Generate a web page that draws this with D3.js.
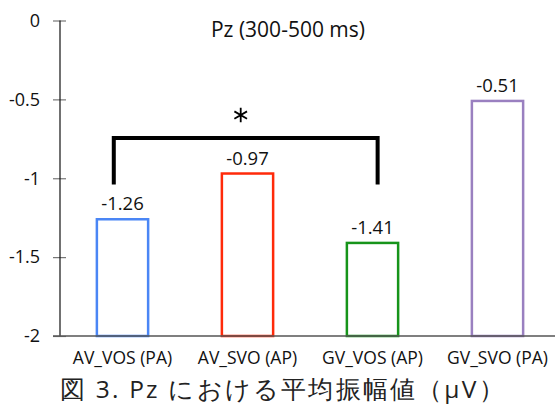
<!DOCTYPE html>
<html>
<head>
<meta charset="utf-8">
<script src="https://cdn.jsdelivr.net/npm/d3@7"></script>
<style>
  body { margin: 0; background: #fff; }
  text { font-family: "Open Sans", "Liberation Sans", sans-serif; }
</style>
</head>
<body>
<div id="chart"></div>
<script>
// categories and mean amplitudes (µV)
var categories = ['AV_VOS (PA)', 'AV_SVO (AP)', 'GV_VOS (AP)', 'GV_SVO (PA)'];
var values = [-1.26, -0.97, -1.41, -0.51];
var barColors = ['#4a86f5', '#ff2a0a', '#16941a', '#9a80c0'];
var yTicks = [0, -0.5, -1, -1.5, -2];
var yTickLabels = ['0', '-0.5', '-1', '-1.5', '-2'];
// significance bracket between 1st and 3rd bar
var sigPair = ['AV_VOS (PA)', 'GV_VOS (AP)'];
var sigLevel = -0.745, sigFoot = -1.04;

var width = 555, height = 405;
var svg = d3.select('#chart').append('svg')
	.attr('width', width)
	.attr('height', height);

var x = d3.scaleBand()
	.domain(categories)
	.range([60, 560])
	.paddingInner(0.59)
	.paddingOuter(0.295);

var y = d3.scaleLinear()
	.domain([-2, 0])
	.range([336, 20.5]);

// y axis
var yAxis = d3.axisLeft(y)
	.tickValues(yTicks)
	.tickFormat((d, i) => yTickLabels[i])
	.tickSize(0)
	.tickPadding(20);
var gy = svg.append('g')
	.attr('transform', 'translate(60,0)')
	.call(yAxis);
gy.select('.domain').remove();
gy.selectAll('text').attr('font-size', 18).attr('fill', '#111');
gy.selectAll('.tick').append('line')
	.attr('x1', -7).attr('x2', 6)
	.attr('stroke', '#777').attr('stroke-width', 1.2);
gy.append('line')
	.attr('y1', y(0)).attr('y2', y(-2))
	.attr('stroke', '#111').attr('stroke-width', 1.2);

// x axis
var xAxis = d3.axisBottom(x).tickSize(0).tickPadding(15.5);
var gx = svg.append('g')
	.attr('transform', 'translate(0,' + y(-2) + ')')
	.call(xAxis);
gx.select('.domain').remove();
gx.selectAll('text').attr('font-size', 17.5).attr('fill', '#111');

// bars
svg.append('g').selectAll('rect')
	.data(values)
	.enter().append('rect')
	.attr('x', (d, i) => x(categories[i]))
	.attr('y', d => y(d))
	.attr('width', x.bandwidth())
	.attr('height', d => y(-2) - y(d))
	.attr('fill', 'none')
	.attr('stroke', (d, i) => barColors[i])
	.attr('stroke-width', 2.5);

svg.append('line')
	.attr('x1', 53).attr('x2', width)
	.attr('y1', y(-2)).attr('y2', y(-2))
	.attr('stroke', '#555').attr('stroke-width', 1.5);

// value labels
svg.append('g').selectAll('text')
	.data(values)
	.enter().append('text')
	.attr('x', (d, i) => x(categories[i]) + x.bandwidth() / 2)
	.attr('y', d => y(d) - 9)
	.attr('text-anchor', 'middle')
	.attr('font-size', 18.5)
	.attr('fill', '#111')
	.text(d => d.toFixed(2));

// bracket
var bx1 = x(sigPair[0]) + x.bandwidth() * 0.33;
var bx2 = x(sigPair[1]) + x.bandwidth() * 0.6;
svg.append('path')
	.attr('d', 'M' + bx1 + ',' + y(sigFoot) + 'V' + y(sigLevel) + 'H' + bx2 + 'V' + y(sigFoot))
	.attr('fill', 'none')
	.attr('stroke', '#000')
	.attr('stroke-width', 4);
svg.append('path')
	.attr('d', d3.symbol().type(d3.symbolAsterisk).size(150)())
	.attr('transform', 'translate(' + ((bx1 + bx2) / 2 - 5) + ',' + (y(sigLevel) - 23) + ')')
	.attr('fill', 'none')
	.attr('stroke', '#000')
	.attr('stroke-width', 1.8);

// title
svg.append('text')
	.attr('x', 288)
	.attr('y', 37)
	.attr('text-anchor', 'middle')
	.attr('font-size', 21)
	.attr('fill', '#111')
	.text('Pz (300-500 ms)');

// caption
svg.append('text')
	.attr('x', 60)
	.attr('y', 397.5)
	.attr('font-size', 24.5)
	.attr('letter-spacing', 2.2)
	.attr('font-family', '"Noto Sans CJK JP", sans-serif')
	.attr('fill', '#222')
	.text('図 3. Pz における平均振幅値（μV）');
</script>
</body>
</html>
